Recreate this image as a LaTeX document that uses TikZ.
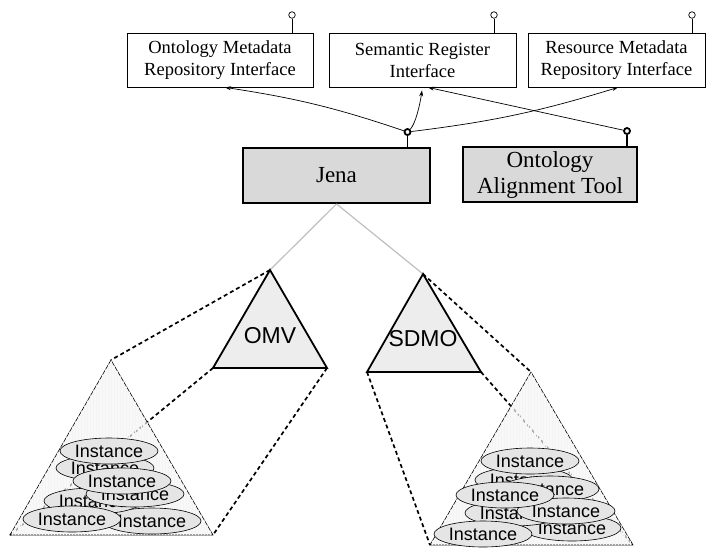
\documentclass[tikz,border=0pt]{standalone}
\usepackage{fontspec}
\setmainfont{Liberation Serif}
\newfontfamily\arialfam{Liberation Sans}
\usetikzlibrary{shapes.geometric,arrows.meta}
\begin{document}
\begin{tikzpicture}[x=1pt,y=-1pt,
  iface/.style={draw,line width=0.8pt,fill=white,minimum width=#1,minimum height=54pt,
    inner sep=0pt,align=center,font=\fontsize{18.5}{22}\selectfont},
  tool/.style={draw,line width=1.8pt,fill=gray!30,minimum width=#1,minimum height=55pt,
    inner sep=0pt,align=center,font=\fontsize{23}{26}\selectfont},
  plug/.style={circle,draw,line width=0.7pt,fill=white,minimum size=6.5pt,inner sep=0pt},
  socket/.style={circle,draw,line width=1.8pt,fill=white,minimum size=6pt,inner sep=0pt},
  arr/.style={-{Stealth[length=6pt,width=4pt]},line width=0.7pt},
  link/.style={gray!50,line width=1.2pt},
  proj/.style={line width=1.7pt,dash pattern=on 4pt off 3pt},
  onto/.style={draw,line width=1.8pt,fill=gray!14,line join=miter},
  base/.style={draw,line width=0.6pt,fill=gray!8,fill opacity=0.7},
  inst/.style={ellipse,draw,line width=0.6pt,fill=gray!20,minimum width=98pt,
    minimum height=26pt,inner sep=0pt,font=\arialfam\fontsize{18}{18}\selectfont},
  label/.style={font=\arialfam\fontsize{23}{23}\selectfont,inner sep=0pt},
]
\useasboundingbox (0,0) rectangle (707,547);

% interface boxes with their provided-interface plugs
\node[iface=186pt] (b1) at (220,60) {Ontology Metadata\\Repository Interface};
\node[iface=187pt] (b2) at (422.5,60) {Semantic Register\\Interface};
\node[iface=177pt] (b3) at (616.5,60) {Resource Metadata\\Repository Interface};
\node[plug] (p1) at (292,15) {};
\node[plug] (p2) at (494,15) {};
\node[plug] (p3) at (692,15) {};
\draw[line width=0.7pt] (p1) -- (p1 |- b1.north);
\draw[line width=0.7pt] (p2) -- (p2 |- b2.north);
\draw[line width=0.7pt] (p3) -- (p3 |- b3.north);

% tools
\node[tool=187pt] (jena) at (336.5,175.5) {Jena};
\node[tool=174pt] (oat) at (550,174.5) {Ontology\\Alignment Tool};
\node[socket] (jc) at (407.5,132) {};
\node[socket] (oc) at (627,131) {};
\draw[line width=1.8pt] (jc) -- (jc |- jena.north);
\draw[line width=1.8pt] (oc) -- (oc |- oat.north);

% usage arrows
\draw[arr] (jc) to[bend right=5] ([xshift=5pt]b1.south);
\draw[arr] (jc) .. controls +(8,-8) and +(-2,14) .. ([xshift=-0.5pt,yshift=-3pt]b2.south);
\draw[arr] (jc) to[bend right=5] ([xshift=1.5pt]b3.south);
\draw[arr] (oc) -- ([xshift=5.5pt]b2.south);

% ontology triangles and their instance bases
\coordinate (omA) at (270,270);
\coordinate (omL) at (213,368);
\coordinate (omR) at (327,368);
\coordinate (sdA) at (423,274);
\coordinate (sdL) at (367,372);
\coordinate (sdR) at (481,372);
\coordinate (lbA) at (111,360);
\coordinate (lbL) at (10,535);
\coordinate (lbR) at (213,535);
\coordinate (rbA) at (531,372);
\coordinate (rbL) at (430,545);
\coordinate (rbR) at (633,545);

\draw[link] (jena.south) -- (omA);
\draw[link] (jena.south) -- (sdA);

\draw[proj] (omA) -- (lbA);
\draw[proj] (omL) -- (lbL);
\draw[proj] (omR) -- (lbR);
\draw[proj] (sdA) -- (rbA);
\draw[proj] (sdL) -- (rbL);
\draw[proj] (sdR) -- (rbR);

\path[base] (lbA) -- (lbL) -- (lbR) -- cycle;
\path[base] (rbA) -- (rbL) -- (rbR) -- cycle;
\begin{scope}
  \clip (lbA) -- (lbL) -- (lbR) -- cycle;
  \draw[gray!9,line width=0.2pt,step=3] (0,350) grid (220,540);
\end{scope}
\begin{scope}
  \clip (rbA) -- (rbL) -- (rbR) -- cycle;
  \draw[gray!9,line width=0.2pt,step=3] (420,360) grid (640,548);
\end{scope}

% instances of the left base
\node[inst] (l2) at (105,468) {Instance};
\node[inst] (l7) at (152,521) {Instance};
\node[inst] (l5) at (93,501) {Instance};
\node[inst] (l4) at (135,494) {Instance};
\node[inst] (l3) at (122,481) {Instance};
\node[inst] (l1) at (109,451) {Instance};
\node[inst] (l6) at (72,519) {Instance};

% instances of the right base
\node[inst] (r2) at (524,480) {Instance};
\node[inst] (r3) at (550,489) {Instance};
\node[inst] (r7) at (572,528) {Instance};
\node[inst] (r5) at (514,513) {Instance};
\node[inst] (r6) at (566,511) {Instance};
\node[inst] (r4) at (505,495) {Instance};
\node[inst] (r1) at (530,461) {Instance};
\node[inst] (r8) at (483,534) {Instance};

\path[onto] (omA) -- (omL) -- (omR) -- cycle;
\path[onto] (sdA) -- (sdL) -- (sdR) -- cycle;
\node[label] (omv) at (270,336) {OMV};
\node[label] (sdmo) at (423,339) {SDMO};
\end{tikzpicture}
\end{document}
